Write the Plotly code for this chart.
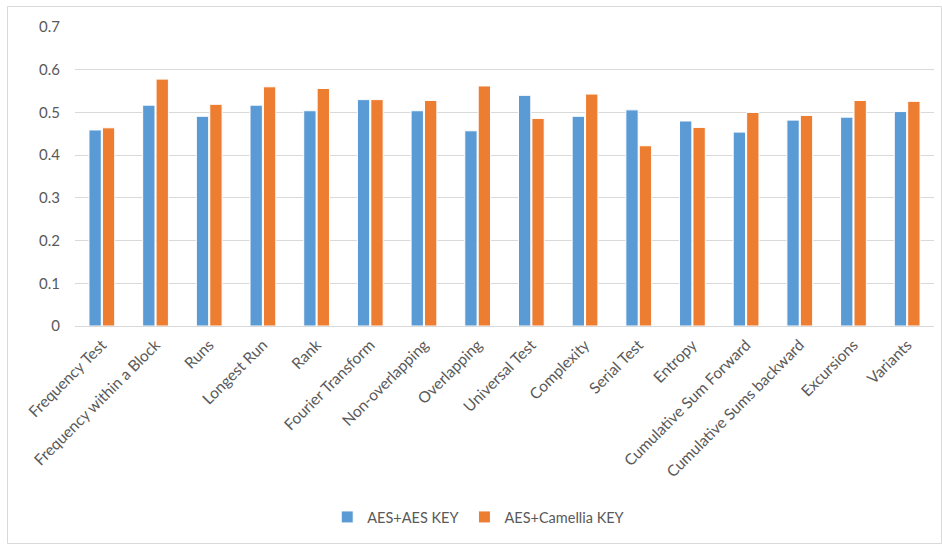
import plotly.graph_objects as go

categories = ["Frequency Test", "Frequency within a Block", "Runs", "Longest Run", "Rank",
              "Fourier Transform", "Non-overlapping", "Overlapping", "Universal Test",
              "Complexity", "Serial Test", "Entropy", "Cumulative Sum Forward",
              "Cumulative Sums backward", "Excursions", "Variants"]
aes_aes = [0.459, 0.517, 0.491, 0.517, 0.504, 0.530, 0.504, 0.457, 0.540,
           0.491, 0.506, 0.480, 0.454, 0.482, 0.489, 0.502]
aes_camellia = [0.464, 0.578, 0.519, 0.560, 0.556, 0.530, 0.528, 0.562, 0.486,
                0.543, 0.422, 0.465, 0.500, 0.493, 0.528, 0.526]
y_ticks = [0, 0.1, 0.2, 0.3, 0.4, 0.5, 0.6, 0.7]
y_labels = ["0", "0.1", "0.2", "0.3", "0.4", "0.5", "0.6", "0.7"]

W, H = 942, 544
L, R, T, B = 75, 8, 27, 218
pw, ph = W - L - R, H - T - B

fig = go.Figure()
fig.add_trace(go.Bar(name="AES+AES KEY", x=categories, y=aes_aes,
                     marker=dict(color="#5B9BD5", line=dict(color="white", width=1))))
fig.add_trace(go.Bar(name="AES+Camellia KEY", x=categories, y=aes_camellia,
                     marker=dict(color="#ED7D31", line=dict(color="white", width=1))))

def px_x(p):
    return (p - L) / pw

def px_y(p):
    return (H - B - p) / ph

fig.update_layout(
    width=W, height=H,
    margin=dict(l=L, r=R, t=T, b=B, pad=0),
    paper_bgcolor="white", plot_bgcolor="white",
    font=dict(family="Lato, Noto Sans, sans-serif", color="#595959", size=15),
    barmode="group", bargap=0.5, bargroupgap=0.08,
    showlegend=True,
    legend=dict(orientation="h", x=0.47, xanchor="center", y=px_y(517), yanchor="middle",
                font=dict(size=14.5, color="#595959"), itemwidth=30, traceorder="normal"),
    xaxis=dict(tickangle=-45, showgrid=False, showline=False, ticks="",
               ticklabelstandoff=6,
               tickfont=dict(size=15.5, color="#595959")),
    yaxis=dict(range=[0, 0.7], tickvals=y_ticks, ticktext=y_labels,
               showgrid=True, gridcolor="#D9D9D9", gridwidth=1,
               zeroline=True, zerolinecolor="#D9D9D9", zerolinewidth=1,
               showline=False, ticks="", ticklabelstandoff=14,
               tickfont=dict(size=15, color="#595959")),
    shapes=[dict(type="rect", xref="paper", yref="paper",
                 x0=px_x(7.5), x1=px_x(941.5), y0=px_y(543.5), y1=px_y(6.5),
                 line=dict(color="#D9D9D9", width=1), fillcolor="rgba(0,0,0,0)", layer="below")],
)

fig.write_html("out.html")
